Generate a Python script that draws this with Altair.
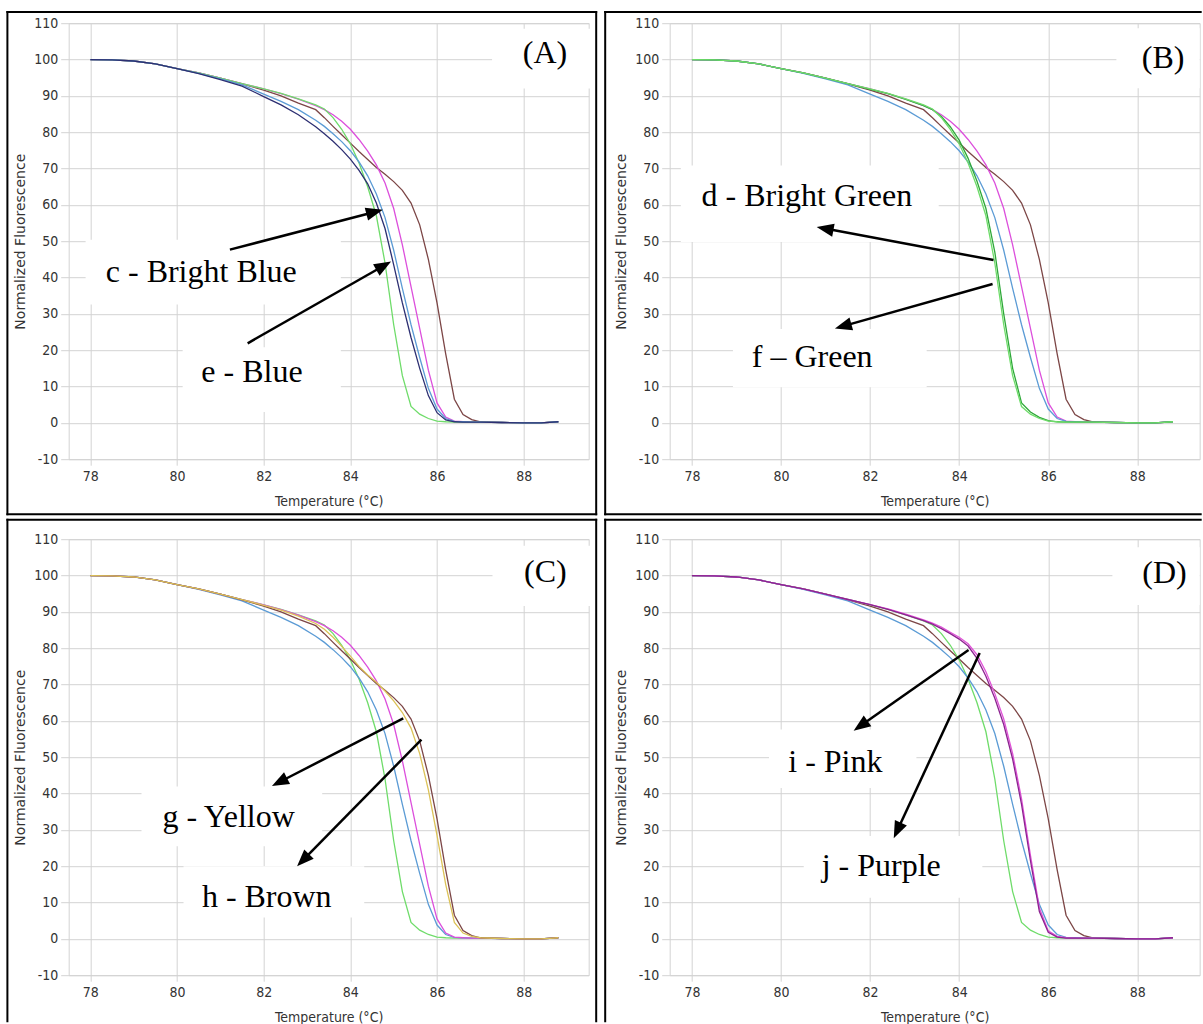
import math
import altair as alt
import pandas as pd

# Melt-curve temperatures (°C) shared by every trace
TEMPS = [78.0, 78.5, 79.0, 79.5, 80.0, 80.5, 81.0, 81.5, 82.0, 82.4, 82.8, 83.2, 83.4, 83.6, 83.8,
         84.0, 84.2, 84.4, 84.6, 84.8, 85.0, 85.2, 85.4, 85.6, 85.8, 86.0, 86.2, 86.4, 86.6, 86.8,
         87.0, 87.5, 88.0, 88.4, 88.8]

# Normalized fluorescence of each trace at TEMPS
GREEN = [100, 99.9, 99.6, 98.8, 97.5, 96.3, 94.9, 93.4, 91.9, 90.7, 89.2, 87.5, 86.4, 84.0, 80.8,
         76.8, 71.5, 65.0, 57.0, 44.0, 27.0, 13.0, 4.5, 2.4, 1.2, 0.5, 0.3, 0.2, 0.2, 0.2,
         0.2, 0.1, 0.0, 0.0, 0.3]
DARK_GREEN = [100, 99.9, 99.6, 98.8, 97.5, 96.3, 94.9, 93.4, 91.8, 90.6, 89.0, 87.3, 86.2, 84.3, 81.5,
              77.8, 72.8, 66.5, 59.0, 47.0, 30.0, 15.0, 5.5, 3.0, 1.5, 0.6, 0.3, 0.2, 0.2, 0.2,
              0.2, 0.1, 0.0, 0.0, 0.3]
LIGHT_BLUE = [100, 99.9, 99.6, 98.8, 97.5, 96.2, 94.7, 93.0, 90.5, 88.5, 86.2, 83.3, 81.6, 79.6, 77.4,
              74.9, 71.8, 68.0, 63.0, 56.5, 47.5, 37.0, 27.0, 18.0, 9.5, 3.8, 1.2, 0.4, 0.3, 0.2,
              0.2, 0.1, 0.0, 0.0, 0.3]
NAVY = [100, 99.9, 99.6, 98.8, 97.5, 96.1, 94.5, 92.7, 89.8, 87.5, 84.8, 81.5, 79.6, 77.5, 75.2,
        72.6, 69.5, 65.8, 60.5, 53.5, 43.5, 33.0, 23.5, 15.0, 7.5, 2.8, 0.8, 0.3, 0.2, 0.2,
        0.2, 0.1, 0.0, 0.0, 0.3]
PINK = [100, 99.9, 99.6, 98.8, 97.5, 96.3, 94.9, 93.4, 91.9, 90.6, 89.1, 87.3, 86.2, 84.8, 83.0,
        80.8, 78.0, 74.8, 71.0, 66.0, 59.0, 49.0, 37.5, 26.0, 14.5, 5.5, 1.6, 0.5, 0.3, 0.2,
        0.2, 0.1, 0.0, 0.0, 0.3]
BROWN = [100, 99.9, 99.6, 98.8, 97.5, 96.3, 94.9, 93.3, 91.6, 90.0, 88.0, 86.2, 84.0, 81.6, 79.3,
         77.0, 74.7, 72.5, 70.3, 68.4, 66.4, 64.0, 60.5, 54.5, 45.0, 33.0, 19.0, 6.5, 2.3, 0.9,
         0.3, 0.1, 0.0, 0.0, 0.3]
YELLOW = [100, 99.9, 99.6, 98.8, 97.5, 96.3, 94.9, 93.4, 91.8, 90.5, 88.8, 86.8, 85.2, 83.0, 80.5,
          77.8, 75.0, 72.6, 70.6, 68.2, 65.5, 62.3, 58.0, 51.0, 41.0, 28.5, 15.0, 4.5, 1.6, 0.7,
          0.3, 0.1, 0.0, 0.0, 0.3]
PINK_D = [100, 99.9, 99.6, 98.8, 97.5, 96.3, 94.9, 93.4, 92.0, 90.8, 89.4, 87.8, 86.9, 85.8, 84.4,
          83.0, 81.2, 78.2, 73.5, 67.5, 60.5, 51.0, 38.5, 23.0, 8.5, 2.2, 0.7, 0.3, 0.2, 0.2,
          0.2, 0.1, 0.0, 0.0, 0.3]
PURPLE = [100, 99.9, 99.6, 98.8, 97.5, 96.3, 94.9, 93.4, 92.0, 90.7, 89.2, 87.6, 86.6, 85.4, 84.0,
          82.5, 80.6, 77.2, 72.3, 66.2, 59.0, 49.5, 37.0, 21.5, 7.5, 1.8, 0.5, 0.2, 0.2, 0.2,
          0.2, 0.1, 0.0, 0.0, 0.3]

CURVES = {
    "green": GREEN, "dark green": DARK_GREEN, "light blue": LIGHT_BLUE, "navy": NAVY,
    "pink": PINK, "brown": BROWN, "yellow": YELLOW, "pink D": PINK_D, "purple": PURPLE,
}
SERIES_COLORS = {
    "green": "#6fdc6a", "dark green": "#2fa83a", "light blue": "#5b9bd5", "navy": "#2d2f72",
    "pink": "#dc4fdc", "brown": "#7c4646", "yellow": "#dcc257", "pink D": "#e052d8",
    "purple": "#8c2290",
}

X_MIN = 77.5
Y_MIN, Y_MAX = -10, 110
X_TICKS = [78, 80, 82, 84, 86, 88]
Y_TICKS = list(range(-10, 111, 10))
PLOT_H = 436

GRID = "#d3d3d3"
AXIS_TEXT = "#333333"
SANS_NARROW = "DejaVu Sans Condensed, Liberation Sans Narrow, DejaVu Sans"
SERIF = "Liberation Serif, Times New Roman, serif"

ARROW_HEAD = "M0,-1L-0.78,1L0.78,1Z"
HEAD_LEN = 17

PANELS = [
    dict(tag="(A)", series=["brown", "pink", "green", "light blue", "navy"], xmax=89.5, width=520,
         tag_pos=(88.49, 101.8), tag_box=(87.27, 89.69, 92.0, 108.5),
         labels=[("c - Bright Blue", 80.56, 41.4), ("e - Blue", 81.73, 13.97)],
         label_boxes=[(77.89, 83.78, 32.6, 50.4), (80.13, 83.78, 3.0, 20.8)],
         arrows=[(81.22, 47.67, 84.75, 58.63), (81.63, 21.9, 84.94, 44.4)],
         frame=dict(left=-61.3, right=527.5, top=-11.3, bottom=491.0)),
    dict(tag="(B)", series=["brown", "pink", "light blue", "dark green", "green"], xmax=89.4, width=530,
         tag_pos=(88.58, 100.5), tag_box=(87.53, 89.4, 92.1, 108.6),
         labels=[("d - Bright Green", 80.58, 62.5), ("f – Green", 80.70, 18.0)],
         label_boxes=[(77.75, 83.54, 49.8, 70.8), (78.92, 83.27, 9.8, 25.8)],
         arrows=[(84.77, 44.8, 80.80, 53.9), (84.75, 38.2, 81.21, 26.0)],
         frame=dict(left=-64.5, right=None, top=-11.3, bottom=491.0, top_end=531)),
    dict(tag="(C)", series=["green", "light blue", "pink", "brown", "yellow"], xmax=89.5, width=520,
         tag_pos=(88.50, 100.9), tag_box=(87.28, 89.69, 91.6, 108.2),
         labels=[("g - Yellow", 81.19, 33.6), ("h - Brown", 82.07, 11.4)],
         label_boxes=[(79.18, 83.35, 25.5, 41.9), (80.15, 84.32, 5.9, 20.0)],
         arrows=[(85.22, 60.66, 82.19, 42.1), (85.64, 54.85, 82.77, 20.0)],
         frame=dict(left=-61.3, right=527.5, top=-19.5, bottom=None)),
    dict(tag="(D)", series=["brown", "green", "light blue", "pink D", "purple"], xmax=89.4, width=530,
         tag_pos=(88.61, 100.8), tag_box=(87.44, 89.4, 91.9, 107.8),
         labels=[("i - Pink", 81.22, 48.8), ("j - Purple", 82.25, 20.0)],
         label_boxes=[(79.73, 83.04, 41.5, 57.6), (80.51, 84.52, 11.3, 28.3)],
         arrows=[(84.21, 79.5, 81.63, 57.3), (84.46, 78.7, 82.53, 27.7)],
         frame=dict(left=-64.5, right=None, top=-19.5, bottom=None, top_end=531)),
]

color_scale = alt.Scale(domain=list(SERIES_COLORS), range=list(SERIES_COLORS.values()))
ONE_ROW = pd.DataFrame({"k": [0]})

X_AXIS = alt.Axis(
    values=X_TICKS, title="Temperature (°C)", grid=True, gridColor=GRID,
    tickColor=GRID, tickSize=6, domain=False, labelFont=SANS_NARROW,
    labelFontSize=14, labelColor=AXIS_TEXT, labelPadding=4, labelFlush=False,
    titleFont=SANS_NARROW, titleFontSize=14, titleFontWeight="normal",
    titleColor=AXIS_TEXT, titlePadding=11)
Y_AXIS = alt.Axis(
    values=Y_TICKS, title="Normalized Fluorescence", grid=True, gridColor=GRID,
    tickColor=GRID, tickSize=8, domain=False, labelFont=SANS_NARROW,
    labelFontSize=14, labelColor=AXIS_TEXT, labelPadding=3, labelFlush=False,
    labelExpr="'' + datum.value",
    titleFont="DejaVu Sans", titleFontSize=14, titleFontWeight="normal",
    titleColor=AXIS_TEXT, titlePadding=6)


def frame_rules(frame):
    """Black panel border, drawn in pixels around the plot cell."""
    left, right, top, bottom = frame["left"], frame["right"], frame["top"], frame["bottom"]
    low = bottom if bottom is not None else PLOT_H + 46
    top_end = frame.get("top_end", right)
    style = dict(color="black", strokeWidth=2, strokeCap="square")
    rules = [
        alt.Chart(ONE_ROW).mark_rule(**style).encode(
            x=alt.value(left), x2=alt.value(top_end), y=alt.value(top)),
        alt.Chart(ONE_ROW).mark_rule(**style).encode(
            x=alt.value(left), y=alt.value(top), y2=alt.value(low)),
    ]
    if right is not None:
        rules.append(alt.Chart(ONE_ROW).mark_rule(**style).encode(
            x=alt.value(right), y=alt.value(top), y2=alt.value(low)))
    if bottom is not None:
        rules.append(alt.Chart(ONE_ROW).mark_rule(**style).encode(
            x=alt.value(left), x2=alt.value(top_end), y=alt.value(bottom)))
    return rules


def panel(spec):
    width, xmax = spec["width"], spec["xmax"]
    sx = width / (xmax - X_MIN)
    sy = PLOT_H / (Y_MAX - Y_MIN)
    xscale = alt.Scale(domain=[X_MIN, xmax], nice=False, zero=False)
    yscale = alt.Scale(domain=[Y_MIN, Y_MAX], nice=False, zero=False)

    def X(field):
        return alt.X(field, type="quantitative", scale=xscale, axis=X_AXIS)

    def Y(field):
        return alt.Y(field, type="quantitative", scale=yscale, axis=Y_AXIS)

    rows = []
    for name in spec["series"]:
        for t, f in zip(TEMPS, CURVES[name]):
            rows.append({"t": t, "f": f, "series": name})
    curves = alt.Chart(pd.DataFrame(rows)).mark_line(strokeWidth=1.3).encode(
        x=X("t"), y=Y("f"),
        color=alt.Color("series:N", scale=color_scale, legend=None),
        detail="series:N",
    )

    boxes = [spec["tag_box"]] + spec["label_boxes"]
    box_df = pd.DataFrame(boxes, columns=["t", "t2", "f", "f2"])
    white = alt.Chart(box_df).mark_rect(color="white").encode(
        x=X("t"), x2="t2:Q", y=Y("f"), y2="f2:Q",
    )

    line_rows, head_rows = [], []
    for t0, f0, t1, f1 in spec["arrows"]:
        dx = (t1 - t0) * sx
        dy = -(f1 - f0) * sy
        length = math.hypot(dx, dy)
        ux, uy = dx / length, dy / length
        angle = math.degrees(math.atan2(ux, -uy)) % 360
        back = HEAD_LEN / 2
        ct = t1 - back * ux / sx
        cf = f1 + back * uy / sy
        line_rows.append({"t": t0, "f": f0, "t2": ct, "f2": cf})
        head_rows.append({"t": ct, "f": cf, "angle": angle})
    shafts = alt.Chart(pd.DataFrame(line_rows)).mark_rule(color="black", strokeWidth=2.5).encode(
        x=X("t"), x2="t2:Q", y=Y("f"), y2="f2:Q",
    )
    heads = alt.Chart(pd.DataFrame(head_rows)).mark_point(
        shape=ARROW_HEAD, size=HEAD_LEN ** 2, filled=True, color="black", opacity=1, strokeWidth=0
    ).encode(
        x=X("t"), y=Y("f"),
        angle=alt.Angle("angle:Q", scale=None),
    )

    texts = [(spec["tag"],) + spec["tag_pos"]] + spec["labels"]
    text_df = pd.DataFrame(texts, columns=["label", "t", "f"])
    words = alt.Chart(text_df).mark_text(font=SERIF, fontSize=32, color="black").encode(
        x=X("t"), y=Y("f"), text="label:N",
    )

    layers = [curves, white, shafts, heads, words] + frame_rules(spec["frame"])
    return alt.layer(*layers).properties(width=width, height=PLOT_H)


chart = alt.concat(
    *[panel(p) for p in PANELS], columns=2, bounds="flush",
    spacing={"row": 80, "column": 81},
).properties(
    padding={"left": 4.7, "top": 9.2, "right": 0, "bottom": 0},
    background="white",
).configure_view(stroke=GRID, strokeWidth=1)

chart.save("out.html", embed_options={"renderer": "svg", "actions": False})
